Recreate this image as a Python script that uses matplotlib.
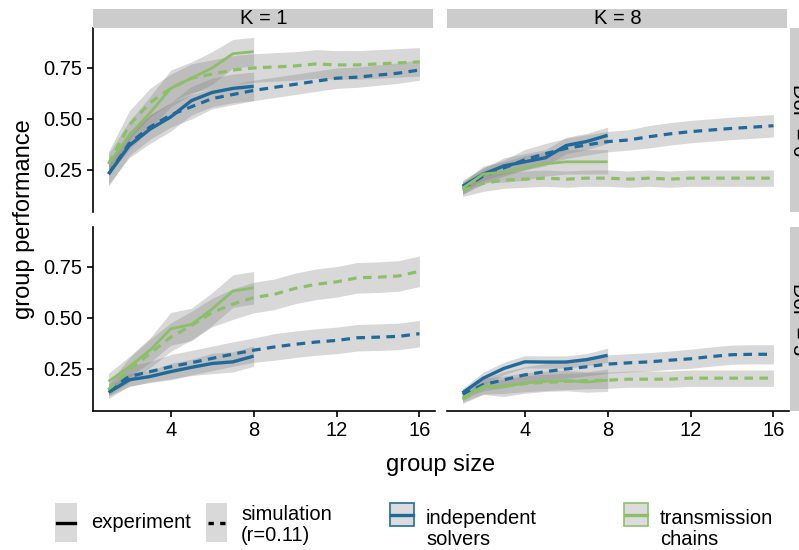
import matplotlib
matplotlib.use("Agg")
import matplotlib.pyplot as plt
from matplotlib.patches import Rectangle
from matplotlib.lines import Line2D
import numpy as np

plt.rcParams['font.family'] = ['Liberation Sans', 'DejaVu Sans']

# ---------------- data ----------------
sizes_exp = [1, 2, 3, 4, 5, 6, 7, 8]
sizes_sim = list(range(1, 17))

# K = 1, DoF = 6
k1d6_is_exp = [0.23, 0.37, 0.45, 0.51, 0.59, 0.63, 0.65, 0.66]
k1d6_tc_exp = [0.28, 0.42, 0.53, 0.65, 0.70, 0.75, 0.82, 0.83]
k1d6_is_sim = [0.23, 0.38, 0.46, 0.52, 0.56, 0.60, 0.62, 0.64, 0.655, 0.67, 0.685, 0.70, 0.705, 0.715, 0.725, 0.74]
k1d6_tc_sim = [0.28, 0.47, 0.58, 0.65, 0.70, 0.72, 0.74, 0.75, 0.755, 0.76, 0.77, 0.765, 0.765, 0.77, 0.775, 0.78]
# K = 8, DoF = 6
k8d6_is_exp = [0.17, 0.23, 0.27, 0.29, 0.31, 0.37, 0.39, 0.42]
k8d6_tc_exp = [0.16, 0.23, 0.24, 0.26, 0.28, 0.29, 0.29, 0.29]
k8d6_is_sim = [0.16, 0.22, 0.26, 0.30, 0.33, 0.356, 0.373, 0.389, 0.397, 0.413, 0.427, 0.438, 0.446, 0.454, 0.46, 0.467]
k8d6_tc_sim = [0.15, 0.185, 0.20, 0.205, 0.21, 0.205, 0.21, 0.21, 0.205, 0.21, 0.205, 0.21, 0.21, 0.21, 0.21, 0.21]
# K = 1, DoF = 3
k1d3_is_exp = [0.135, 0.197, 0.213, 0.237, 0.258, 0.277, 0.285, 0.313]
k1d3_tc_exp = [0.189, 0.261, 0.342, 0.447, 0.468, 0.544, 0.632, 0.648]
k1d3_is_sim = [0.148, 0.213, 0.237, 0.261, 0.281, 0.302, 0.323, 0.342, 0.358, 0.371, 0.382, 0.39, 0.403, 0.406, 0.41, 0.423]
k1d3_tc_sim = [0.148, 0.245, 0.326, 0.406, 0.463, 0.527, 0.568, 0.60, 0.616, 0.645, 0.665, 0.677, 0.697, 0.70, 0.706, 0.729]
# K = 8, DoF = 3
k8d3_is_exp = [0.133, 0.205, 0.253, 0.285, 0.284, 0.284, 0.296, 0.317]
k8d3_tc_exp = [0.109, 0.165, 0.165, 0.181, 0.19, 0.193, 0.186, 0.195]
k8d3_is_sim = [0.125, 0.173, 0.197, 0.221, 0.237, 0.25, 0.261, 0.274, 0.28, 0.285, 0.293, 0.30, 0.311, 0.32, 0.322, 0.322]
k8d3_tc_sim = [0.10, 0.157, 0.165, 0.178, 0.184, 0.189, 0.193, 0.195, 0.20, 0.20, 0.20, 0.205, 0.205, 0.205, 0.205, 0.205]

# ribbon half widths
hw_k1d6_is_exp = [0.05, 0.06, 0.07, 0.07, 0.07, 0.07, 0.07, 0.07]
hw_k1d6_tc_exp = [0.05, 0.07, 0.08, 0.09, 0.08, 0.08, 0.07, 0.07]
hw_k1d6_is_sim = [0.06, 0.06, 0.06, 0.06, 0.06, 0.05, 0.05, 0.05, 0.05, 0.05, 0.05, 0.05, 0.05, 0.05, 0.05, 0.05]
hw_k1d6_tc_sim = [0.06, 0.07, 0.07, 0.07, 0.07, 0.07, 0.07, 0.07, 0.07, 0.07, 0.07, 0.07, 0.07, 0.07, 0.07, 0.07]
hw_k8d6_is_exp = [0.03, 0.03, 0.04, 0.04, 0.04, 0.04, 0.04, 0.04]
hw_k8d6_tc_exp = [0.03, 0.04, 0.05, 0.06, 0.06, 0.06, 0.06, 0.06]
hw_k8d6_is_sim = [0.03, 0.04, 0.04, 0.05, 0.05, 0.05, 0.05, 0.05, 0.05, 0.055, 0.055, 0.055, 0.055, 0.055, 0.055, 0.055]
hw_k8d6_tc_sim = [0.03, 0.04, 0.04, 0.04, 0.04, 0.04, 0.04, 0.04, 0.04, 0.04, 0.04, 0.04, 0.04, 0.04, 0.04, 0.04]
hw_k1d3_is_exp = [0.03, 0.03, 0.03, 0.04, 0.04, 0.05, 0.05, 0.05]
hw_k1d3_tc_exp = [0.04, 0.05, 0.06, 0.08, 0.08, 0.08, 0.08, 0.08]
hw_k1d3_is_sim = [0.03, 0.05, 0.05, 0.06, 0.06, 0.06, 0.06, 0.06, 0.065, 0.065, 0.065, 0.065, 0.065, 0.065, 0.065, 0.065]
hw_k1d3_tc_sim = [0.03, 0.06, 0.07, 0.07, 0.07, 0.07, 0.075, 0.075, 0.075, 0.075, 0.075, 0.075, 0.075, 0.075, 0.075, 0.075]
hw_k8d3_is_exp = [0.02, 0.03, 0.03, 0.03, 0.03, 0.03, 0.03, 0.035]
hw_k8d3_tc_exp = [0.02, 0.04, 0.05, 0.05, 0.05, 0.05, 0.05, 0.055]
hw_k8d3_is_sim = [0.02, 0.03, 0.04, 0.04, 0.04, 0.045, 0.045, 0.045, 0.045, 0.045, 0.045, 0.047, 0.047, 0.047, 0.047, 0.047]
hw_k8d3_tc_sim = [0.02, 0.03, 0.035, 0.04, 0.04, 0.04, 0.04, 0.04, 0.04, 0.04, 0.04, 0.04, 0.04, 0.04, 0.04, 0.04]

col_labels = ["K = 1", "K = 8"]
row_labels = ["DoF = 6", "DoF = 3"]
x_ticks = [4, 8, 12, 16]
y_ticks = [0.25, 0.50, 0.75]

panels = {
    (0, 0): (k1d6_is_exp, k1d6_tc_exp, k1d6_is_sim, k1d6_tc_sim,
             hw_k1d6_is_exp, hw_k1d6_tc_exp, hw_k1d6_is_sim, hw_k1d6_tc_sim),
    (0, 1): (k8d6_is_exp, k8d6_tc_exp, k8d6_is_sim, k8d6_tc_sim,
             hw_k8d6_is_exp, hw_k8d6_tc_exp, hw_k8d6_is_sim, hw_k8d6_tc_sim),
    (1, 0): (k1d3_is_exp, k1d3_tc_exp, k1d3_is_sim, k1d3_tc_sim,
             hw_k1d3_is_exp, hw_k1d3_tc_exp, hw_k1d3_is_sim, hw_k1d3_tc_sim),
    (1, 1): (k8d3_is_exp, k8d3_tc_exp, k8d3_is_sim, k8d3_tc_sim,
             hw_k8d3_is_exp, hw_k8d3_tc_exp, hw_k8d3_is_sim, hw_k8d3_tc_sim),
}

BLUE = '#1f6a9b'
GREEN = '#8cc068'
RIB = '#808080'
STRIP = '#cccccc'
DASH = (2.7, 2.0)
FS = 14.5      # ticks, strips, legend
FS_T = 17      # axis titles

W, H = 799, 550
fig = plt.figure(figsize=(W / 100, H / 100), dpi=100)


def px_box(x0, y0, x1, y1):
    # pixel box (top-left origin) -> figure fraction
    return [x0 / W, 1 - y1 / H, (x1 - x0) / W, (y1 - y0) / H]


col_x = [(93, 435), (447, 789)]
row_y = [(28, 212), (227, 411)]

for (r, c), d in panels.items():
    is_exp, tc_exp, is_sim, tc_sim, h1, h2, h3, h4 = d
    ax = fig.add_axes(px_box(col_x[c][0], row_y[r][0], col_x[c][1], row_y[r][1]))
    ax.set_xlim(0.25, 16.75)
    ax.set_ylim(0.044, 0.946)
    # ribbons
    for xs, ys, hw in [(sizes_sim, is_sim, h3), (sizes_sim, tc_sim, h4),
                       (sizes_exp, is_exp, h1), (sizes_exp, tc_exp, h2)]:
        ys = np.array(ys); hw = np.array(hw)
        ax.fill_between(xs, ys - hw, ys + hw, color=RIB, alpha=0.3, lw=0)
    # lines
    ax.plot(sizes_sim, is_sim, color=BLUE, lw=2.3, dashes=DASH)
    ax.plot(sizes_sim, tc_sim, color=GREEN, lw=2.3, dashes=DASH)
    ax.plot(sizes_exp, is_exp, color=BLUE, lw=2.4, solid_capstyle='butt')
    ax.plot(sizes_exp, tc_exp, color=GREEN, lw=2.0, solid_capstyle='butt')

    for s in ['top', 'right']:
        ax.spines[s].set_visible(False)
    ax.spines['left'].set_linewidth(1.2)
    ax.spines['bottom'].set_linewidth(1.2)
    ax.tick_params(width=1.2, length=4.5, labelsize=FS, colors='black', pad=3)
    ax.set_xticks(x_ticks)
    ax.set_yticks(y_ticks)
    ax.set_yticklabels(['0.25', '0.50', '0.75'])
    if r == 0:
        ax.spines['bottom'].set_visible(False)
        ax.tick_params(axis='x', bottom=False, labelbottom=False)
    if c == 1:
        ax.spines['left'].set_visible(False)
        ax.tick_params(axis='y', left=False, labelleft=False)
    ax.patch.set_alpha(0)

# overlay in pixel coordinates for strips, titles, legend
ov = fig.add_axes([0, 0, 1, 1])
ov.set_xlim(0, W)
ov.set_ylim(H, 0)
ov.axis('off')

for c, lab in enumerate(col_labels):
    x0, x1 = col_x[c]
    ov.add_patch(Rectangle((x0, 9), x1 - x0 - 2, 19, color=STRIP, lw=0))
    ov.text((x0 + x1) / 2, 19, lab, ha='center', va='center', fontsize=FS)

for r, lab in enumerate(row_labels):
    y0, y1 = row_y[r]
    ov.add_patch(Rectangle((790, y0), 20, y1 - y0, color=STRIP, lw=0, clip_on=False))
    ov.text(798.5, (y0 + y1) / 2, lab, ha='center', va='center', rotation=-90,
            fontsize=FS, clip_on=False)

ov.text(441, 465, 'group size', ha='center', va='center', fontsize=FS_T)
ov.text(24, 219.5, 'group performance', ha='center', va='center', rotation=90, fontsize=FS_T)

# legend: linetype
ov.add_patch(Rectangle((55, 503), 22, 39, color='#d9d9d9', lw=0))
ov.add_line(Line2D([57, 75], [523, 523], color='black', lw=2.4))
ov.text(91, 523, 'experiment', ha='left', va='center', fontsize=FS)
ov.add_patch(Rectangle((206, 503), 21, 39, color='#d9d9d9', lw=0))
ov.add_line(Line2D([208, 225], [523, 523], color='black', lw=2.4, dashes=(1.6, 1.9)))
ov.text(241, 525, 'simulation\n(r=0.11)', ha='left', va='center', fontsize=FS, linespacing=1.15)

# legend: colour
for x0, col, lab in [(390, BLUE, 'independent\nsolvers'), (624, GREEN, 'transmission\nchains')]:
    ov.add_patch(Rectangle((x0, 503), 24, 23, facecolor='#d9d9d9', edgecolor=col, lw=1.3, alpha=0.9))
    ov.add_line(Line2D([x0 + 1, x0 + 23], [514.5, 514.5], color=col, lw=2.4))
    ov.text(x0 + 36, 529, lab, ha='left', va='center', fontsize=FS, linespacing=1.15)

fig.savefig('out.png', dpi=100)
